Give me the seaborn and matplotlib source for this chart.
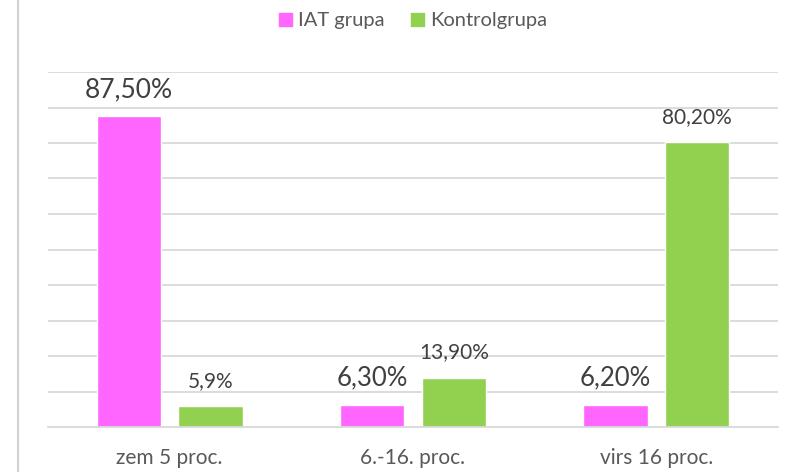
import matplotlib
matplotlib.use("Agg")
import matplotlib.pyplot as plt
import seaborn as sns
import pandas as pd
from matplotlib.lines import Line2D

categories = ["zem 5 proc.", "6.-16. proc.", "virs 16 proc."]
series_names = ["IAT grupa", "Kontrolgrupa"]
iat_values = [87.5, 6.3, 6.2]
control_values = [5.9, 13.9, 80.2]
iat_labels = ["87,50%", "6,30%", "6,20%"]
control_labels = ["5,9%", "13,90%", "80,20%"]

iat_label_sizes = [19, 18.5, 18.5]
control_label_sizes = [15, 15, 15]
colors = ["#FF66FF", "#92D050"]

sns.set_theme(style="white")
plt.rcParams["font.family"] = ["Lato", "DejaVu Sans"]

df = pd.DataFrame({
    "category": categories * 2,
    "group": [series_names[0]] * 3 + [series_names[1]] * 3,
    "value": iat_values + control_values,
})

W, H = 787, 472
fig = plt.figure(figsize=(W / 100, H / 100), dpi=100)
ax = fig.add_axes([48 / W, 1 - 427 / H, (778 - 48) / W, (427 - 72) / H])

sns.barplot(data=df, x="category", y="value", hue="group", order=categories,
            hue_order=series_names, palette=colors, width=0.67, gap=0.21,
            saturation=1, ax=ax, legend=True)

ax.set_xlim(-0.5, 2.5)
ax.set_ylim(0, 100)
ax.set_yticks(range(0, 101, 10))
ax.set_yticklabels([])
ax.yaxis.grid(True, color="#D9D9D9", linewidth=1.3)
ax.set_axisbelow(True)
for s in ["left", "right", "top"]:
    ax.spines[s].set_visible(False)
ax.spines["bottom"].set_color("#D9D9D9")
ax.spines["bottom"].set_linewidth(1.3)
ax.tick_params(axis="both", length=0)
ax.tick_params(axis="x", labelsize=15, labelcolor="#595959", pad=15)
ax.tick_params(axis="y", pad=0)
ax.set_xlabel("")
ax.set_ylabel("")

for cont, labels, sizes in zip(ax.containers, [iat_labels, control_labels],
                               [iat_label_sizes, control_label_sizes]):
    for bar, lab, fs in zip(cont, labels, sizes):
        ax.annotate(lab, (bar.get_x() + bar.get_width() / 2, bar.get_height()),
                    xytext=(0, 14), textcoords="offset points",
                    ha="center", va="baseline", fontsize=fs, color="#404040")

handles = [plt.Rectangle((0, 0), 1, 1, color=c) for c in colors]
leg = ax.legend(handles, series_names, loc="center", bbox_to_anchor=(0.5, 1.144),
                ncol=2, frameon=False, fontsize=14.5, handlelength=0.65,
                handleheight=0.65, handletextpad=0.3, columnspacing=1.3,
                labelcolor="#595959")

fig.add_artist(Line2D([18 / W, 18 / W], [0, 1], color="#D0D0D0", linewidth=1.5,
                      transform=fig.transFigure))

fig.savefig("out.png", dpi=100)
